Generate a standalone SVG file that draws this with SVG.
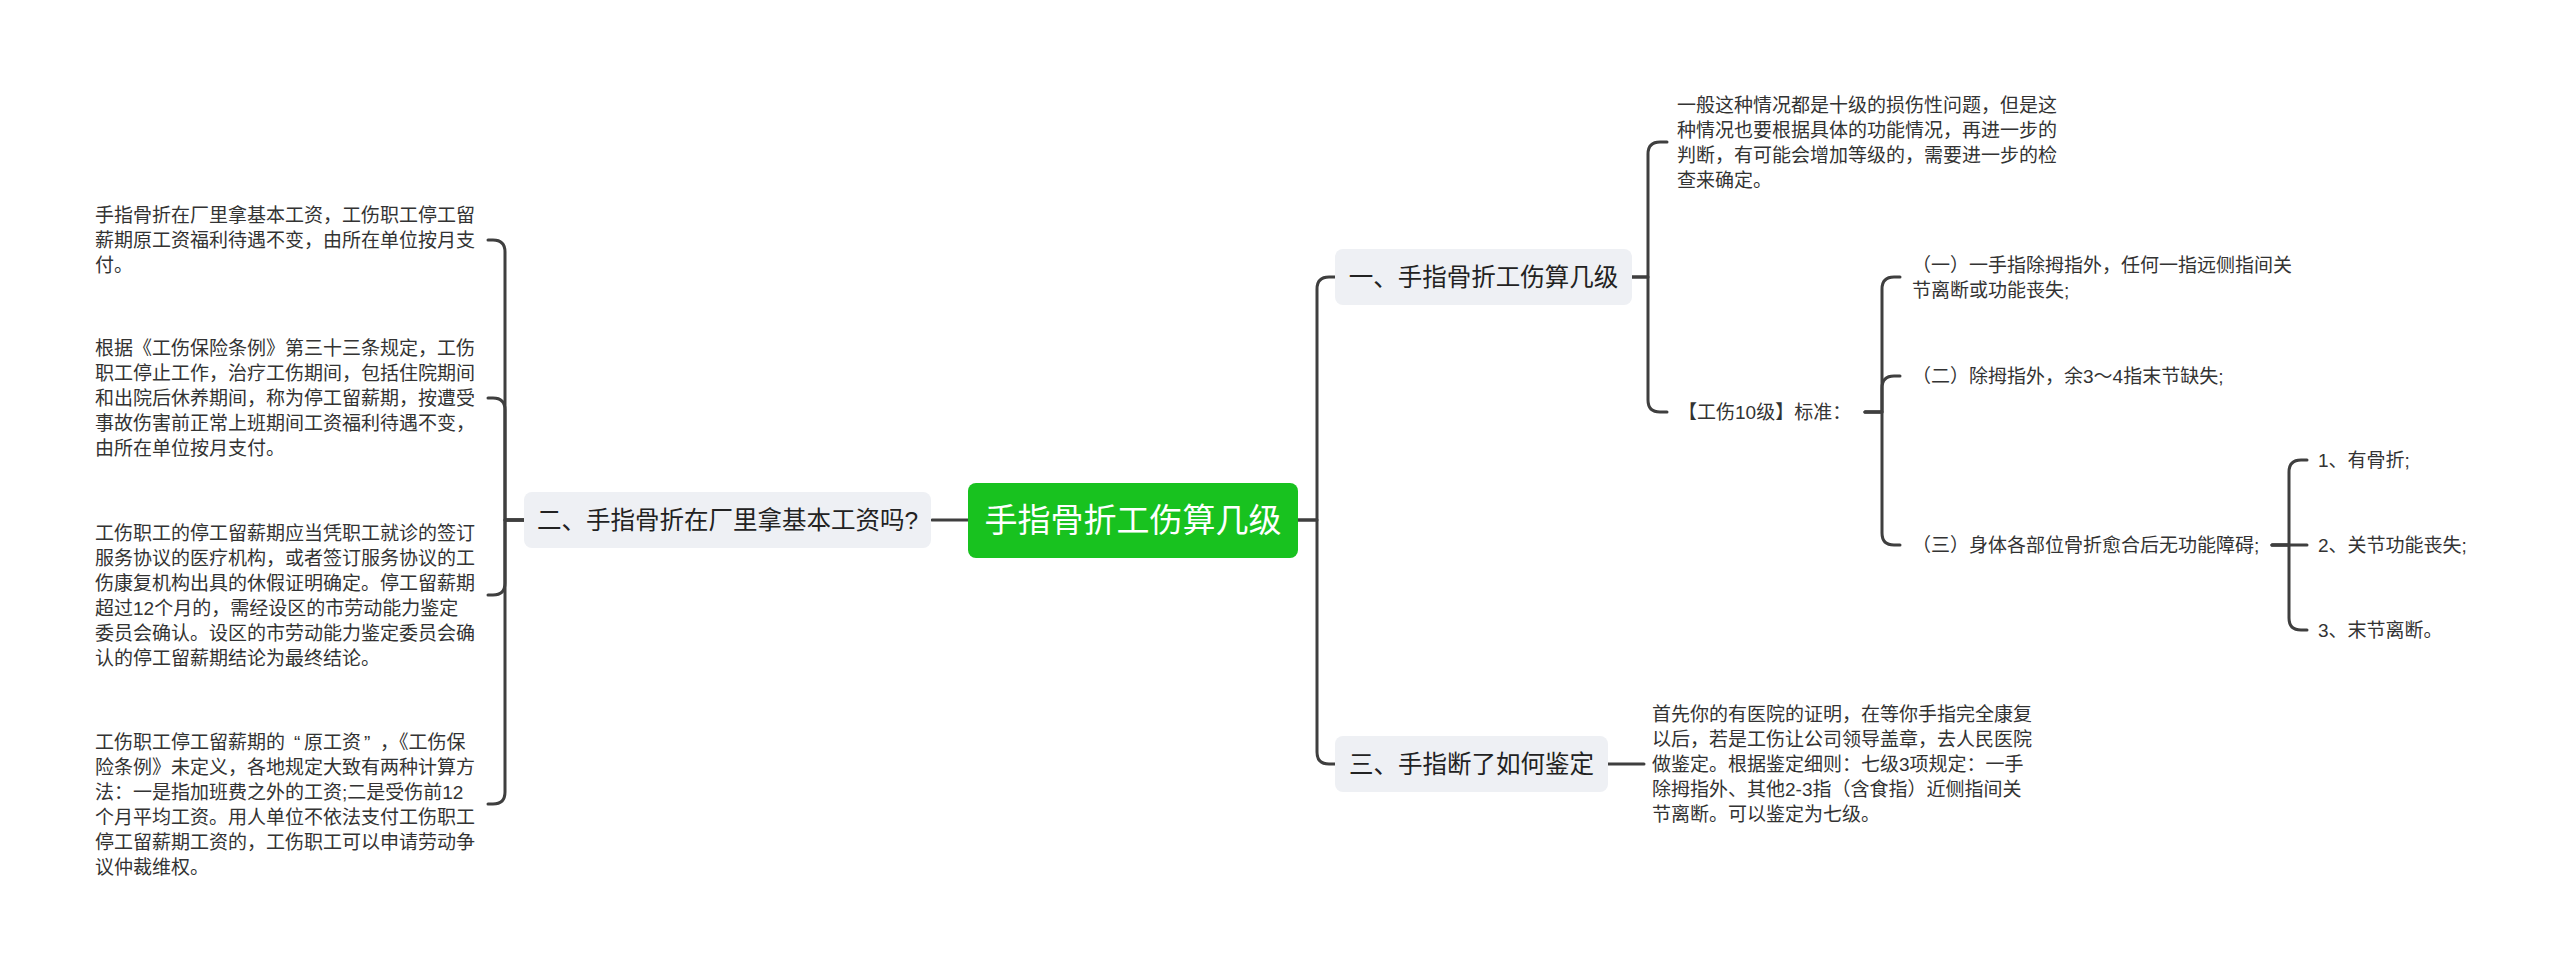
<svg xmlns="http://www.w3.org/2000/svg" width="2560" height="971" viewBox="0 0 2560 971">
<style>
.bg{fill:#ffffff}
.conn path{fill:none;stroke:#3f3f3f;stroke-width:3;stroke-linecap:round;stroke-linejoin:round}
.topic{fill:#eef0f4}
.root{fill:#18c21f}
.t{font-family:'Liberation Sans','Noto Sans CJK SC',sans-serif}
.cjk{font-family:'Noto Sans CJK SC',sans-serif}
.tt{font-size:24.5px;fill:#222;text-anchor:middle}
.rt{font-size:33px;fill:#ffffff;text-anchor:middle}
.lf{font-size:19px;fill:#333}
</style>
<rect class="bg" x="0" y="0" width="2560" height="971"/>
<g id="connectors" class="conn">
<path d="M968,520 H932"/>
<path d="M524,520 H505 V252 Q505,240 493,240 H488"/>
<path d="M524,520 H505 V410 Q505,398 493,398 H488"/>
<path d="M524,520 H505 V583 Q505,595 493,595 H488"/>
<path d="M524,520 H505 V792 Q505,804 493,804 H488"/>
<path d="M1298,520 H1317 V289 Q1317,277 1329,277 H1335"/>
<path d="M1298,520 H1317 V752 Q1317,764 1329,764 H1335"/>
<path d="M1632,277 H1648 V154 Q1648,142 1660,142 H1667"/>
<path d="M1632,277 H1648 V400 Q1648,412 1660,412 H1667"/>
<path d="M1865,412 H1882 V289 Q1882,277 1894,277 H1900"/>
<path d="M1865,412 H1882 V388 Q1882,376 1894,376 H1900"/>
<path d="M1865,412 H1882 V533 Q1882,545 1894,545 H1900"/>
<path d="M2272,545 H2289 V472 Q2289,460 2301,460 H2307"/>
<path d="M2272,545 H2307"/>
<path d="M2272,545 H2289 V618 Q2289,630 2301,630 H2307"/>
<path d="M1608,764 H1644"/>
</g>
<g id="root">
<rect class="root" x="968" y="483" width="330" height="75" rx="8"/>
<text class="t rt" x="1133" y="532">手指骨折工伤算几级</text>
</g>
<g id="topic2">
<rect class="topic" x="524" y="492" width="407" height="56" rx="8"/>
<text class="t tt" x="727.5" y="529">二、手指骨折在厂里拿基本工资吗?</text>
</g>
<g id="topic1">
<rect class="topic" x="1335" y="249" width="297" height="56" rx="8"/>
<text class="t tt" x="1483.5" y="286">一、手指骨折工伤算几级</text>
</g>
<g id="topic3">
<rect class="topic" x="1335" y="736" width="273" height="56" rx="8"/>
<text class="t tt" x="1471.5" y="773">三、手指断了如何鉴定</text>
</g>
<g id="leaf-l1">
<text class="t lf"><tspan x="95" y="222">手指骨折在厂里拿基本工资，工伤职工停工留</tspan><tspan x="95" y="247">薪期原工资福利待遇不变，由所在单位按月支</tspan><tspan x="95" y="272">付。</tspan></text>
</g>
<g id="leaf-l2">
<text class="t lf"><tspan x="95" y="355">根据《工伤保险条例》第三十三条规定，工伤</tspan><tspan x="95" y="380">职工停止工作，治疗工伤期间，包括住院期间</tspan><tspan x="95" y="405">和出院后休养期间，称为停工留薪期，按遭受</tspan><tspan x="95" y="430">事故伤害前正常上班期间工资福利待遇不变，</tspan><tspan x="95" y="455">由所在单位按月支付。</tspan></text>
</g>
<g id="leaf-l3">
<text class="t lf"><tspan x="95" y="540">工伤职工的停工留薪期应当凭职工就诊的签订</tspan><tspan x="95" y="565">服务协议的医疗机构，或者签订服务协议的工</tspan><tspan x="95" y="590">伤康复机构出具的休假证明确定。停工留薪期</tspan><tspan x="95" y="615">超过12个月的，需经设区的市劳动能力鉴定</tspan><tspan x="95" y="640">委员会确认。设区的市劳动能力鉴定委员会确</tspan><tspan x="95" y="665">认的停工留薪期结论为最终结论。</tspan></text>
</g>
<g id="leaf-l4">
<text class="t lf"><tspan x="95" y="749">工伤职工停工留薪期的</tspan><tspan x="294" y="749" style="font-family:'Liberation Sans',sans-serif">“</tspan><tspan x="304" y="749">原工资</tspan><tspan x="364" y="749" style="font-family:'Liberation Sans',sans-serif">”</tspan><tspan x="380" y="749">，《工伤保</tspan><tspan x="95" y="774">险条例》未定义，各地规定大致有两种计算方</tspan><tspan x="95" y="799">法：一是指加班费之外的工资;二是受伤前12</tspan><tspan x="95" y="824">个月平均工资。用人单位不依法支付工伤职工</tspan><tspan x="95" y="849">停工留薪期工资的，工伤职工可以申请劳动争</tspan><tspan x="95" y="874">议仲裁维权。</tspan></text>
</g>
<g id="leaf-r1">
<text class="t lf"><tspan x="1677" y="112">一般这种情况都是十级的损伤性问题，但是这</tspan><tspan x="1677" y="137">种情况也要根据具体的功能情况，再进一步的</tspan><tspan x="1677" y="162">判断，有可能会增加等级的，需要进一步的检</tspan><tspan x="1677" y="187">查来确定。</tspan></text>
</g>
<g id="leaf-r2">
<text class="t lf" x="1678" y="419">【工伤10级】标准：</text>
</g>
<g id="leaf-r2a">
<text class="t lf"><tspan x="1912" y="272">（一）一手指除拇指外，任何一指远侧指间关</tspan><tspan x="1912" y="297">节离断或功能丧失;</tspan></text>
</g>
<g id="leaf-r2b">
<text class="t lf" x="1912" y="383">（二）除拇指外，余3～4指末节缺失;</text>
</g>
<g id="leaf-r2c">
<text class="t lf" x="1912" y="552">（三）身体各部位骨折愈合后无功能障碍;</text>
</g>
<g id="leaf-r2c1">
<text class="t lf" x="2318" y="467">1、有骨折;</text>
</g>
<g id="leaf-r2c2">
<text class="t lf" x="2318" y="552">2、关节功能丧失;</text>
</g>
<g id="leaf-r2c3">
<text class="t lf" x="2318" y="637">3、末节离断。</text>
</g>
<g id="leaf-r3">
<text class="t lf"><tspan x="1652" y="721">首先你的有医院的证明，在等你手指完全康复</tspan><tspan x="1652" y="746">以后，若是工伤让公司领导盖章，去人民医院</tspan><tspan x="1652" y="771">做鉴定。根据鉴定细则：七级3项规定：一手</tspan><tspan x="1652" y="796">除拇指外、其他2-3指（含食指）近侧指间关</tspan><tspan x="1652" y="821">节离断。可以鉴定为七级。</tspan></text>
</g>
</svg>
